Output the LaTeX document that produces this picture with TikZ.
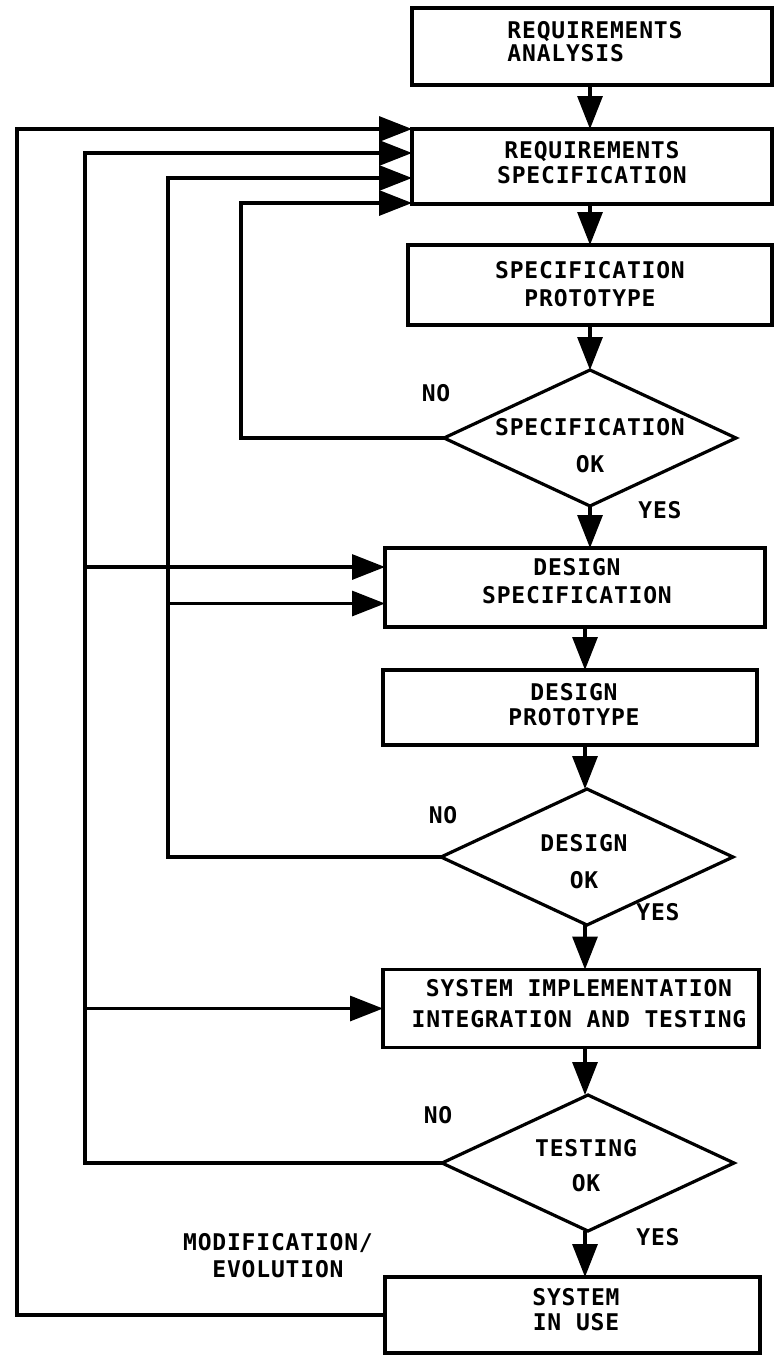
\documentclass[tikz,border=0pt]{standalone}
\usepackage{fontspec}
\newfontfamily\plotfont{DejaVu Sans Mono}[LetterSpace=3.5]
\usetikzlibrary{arrows.meta,shapes.geometric,calc}
\begin{document}
\begin{tikzpicture}[x=1pt,y=-1pt,
  line width=3.2pt, line join=miter,
  box/.style={draw, rectangle, inner sep=0pt, outer sep=0pt},
  dia/.style={draw, diamond, inner sep=0pt, outer sep=0pt, minimum width=292pt, minimum height=136pt},
  txt/.style={font=\plotfont\bfseries\fontsize{23}{25}\selectfont, align=center, inner sep=0pt},
  arr/.style={-{Triangle[length=33pt,width=25pt]}}]
\useasboundingbox (0,0) rectangle (775,1357);
% boxes
\node[box, minimum width=360pt, minimum height=77pt] (ra) at (592,46.5) {};
\node[box, minimum width=360pt, minimum height=75pt] (rs) at (592,166.5) {};
\node[box, minimum width=364pt, minimum height=80pt] (sp) at (590,285) {};
\node[dia] (d1) at (590,438) {};
\node[box, minimum width=380pt, minimum height=79pt] (ds) at (575,587.5) {};
\node[box, minimum width=374pt, minimum height=75pt] (dp) at (570,707.5) {};
\node[dia] (d2) at (587,857) {};
\node[box, minimum width=376pt, minimum height=78pt] (impl) at (571,1008.5) {};
\node[dia] (d3) at (588,1163) {};
\node[box, minimum width=375pt, minimum height=76pt] (use) at (572.5,1315) {};
% texts
\node[txt, align=left] (rat) at (595,42) {REQUIREMENTS\\[-2pt]ANALYSIS};
\node[txt] (rst) at (592,162.5) {REQUIREMENTS\\SPECIFICATION};
\node[txt] (spt) at (590,284) {SPECIFICATION\\[3pt]PROTOTYPE};
\node[txt] (d1t) at (590,446) {SPECIFICATION\\[12pt]OK};
\node[txt] (dst) at (577,581.5) {DESIGN\\[3pt]SPECIFICATION};
\node[txt] (dpt) at (574,705) {DESIGN\\[0pt]PROTOTYPE};
\node[txt] (d2t) at (584,862) {DESIGN\\[12pt]OK};
\node[txt] (implt) at (579,1004) {SYSTEM IMPLEMENTATION\\[6pt]INTEGRATION AND TESTING};
\node[txt] (d3t) at (586,1165.5) {TESTING\\[10pt]OK};
\node[txt] (uset) at (576,1310) {SYSTEM\\[0pt]IN USE};
\node[txt] (modt) at (278,1256) {MODIFICATION/\\[2pt]EVOLUTION};
\node[txt] (no1) at (436,393) {NO};
\node[txt] (yes1) at (660,510) {YES};
\node[txt] (no2) at (443,815) {NO};
\node[txt] (yes2) at (658,912) {YES};
\node[txt] (no3) at (438,1115) {NO};
\node[txt] (yes3) at (658,1237) {YES};
% main flow
\coordinate (ca) at (590,0);
\coordinate (cb) at (585,0);
\draw[arr] (ra.south -| ca) -- (rs.north -| ca);
\draw[arr] (rs.south -| ca) -- (sp.north -| ca);
\draw[arr] (sp.south -| ca) -- (d1.north);
\draw[arr] (d1.south) -- (ds.north -| d1.south);
\draw[arr] (ds.south -| cb) -- (dp.north -| cb);
\draw[arr] (dp.south -| cb) -- (d2.north -| cb);
\draw[arr] (d2.south -| cb) -- (impl.north -| cb);
\draw[arr] (impl.south -| cb) -- (d3.north -| cb);
\draw[arr] (d3.south -| cb) -- (use.north -| cb);
% feedback columns
\coordinate (L1) at (17,0);
\coordinate (L2) at (85,0);
\coordinate (L3) at (168,0);
\coordinate (L4) at (241,0);
\coordinate (r2) at ($(rs.north west)+(0,24)$);
\coordinate (r3) at ($(rs.north west)+(0,49)$);
\coordinate (r4) at ($(rs.south west)+(0,-1)$);
\coordinate (dsa) at ($(ds.west)+(0,-20.5)$);
\coordinate (dsb) at ($(ds.west)+(0,16)$);
\draw[arr] (use.west) -- (use.west -| L1) -- (rs.north west -| L1) -- (rs.north west);
\draw[arr] (d3.west) -- (d3.west -| L2) -- (r2 -| L2) -- (r2);
\draw[arr] (d2.west) -- (d2.west -| L3) -- (r3 -| L3) -- (r3);
\draw[arr] (d1.west) -- (d1.west -| L4) -- (r4 -| L4) -- (r4);
\draw[arr] (dsa -| L2) -- (dsa);
\draw[arr] (dsb -| L3) -- (dsb);
\draw[arr] (impl.west -| L2) -- (impl.west);
\end{tikzpicture}
\end{document}
